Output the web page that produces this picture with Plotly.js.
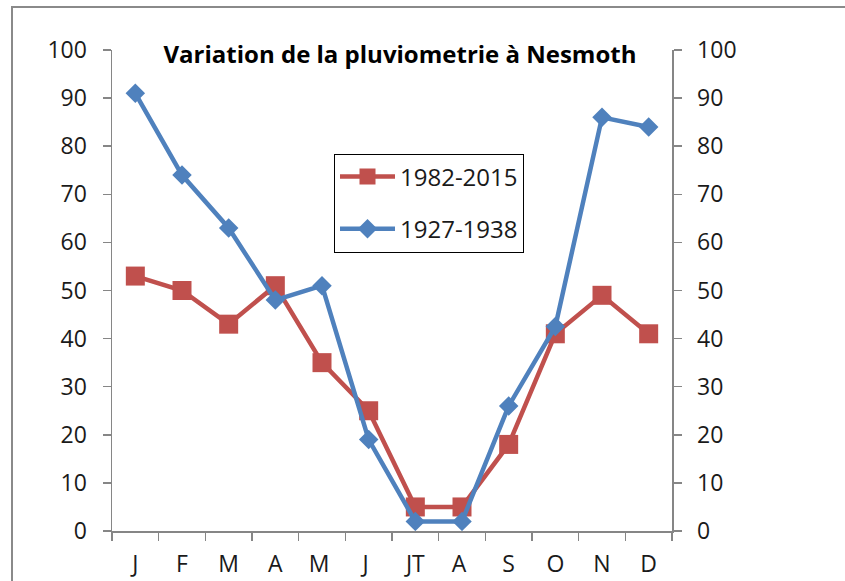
<!DOCTYPE html>
<html>
<head>
<meta charset="utf-8">
<script src="https://cdn.plot.ly/plotly-3.0.1.min.js"></script>
<style>
  html, body { margin: 0; padding: 0; background: #fff; overflow: hidden; }
  #frame { position: absolute; left: 11px; top: 6px; width: 1000px; height: 800px;
           border: 2px solid #8a8a8a; box-sizing: border-box; }
  #chart { position: absolute; left: 0; top: 0; width: 845px; height: 581px; }
</style>
</head>
<body>
<div id="frame"></div>
<div id="chart"></div>
<script>
const months = ["J", "F", "M", "A", "M ", "J ", "JT", "A ", "S", "O", "N", "D"];
const series1Name = "1982-2015";
const series1 = [53, 50, 43, 51, 35, 25, 5, 5, 18, 41, 49, 41];
const series2Name = "1927-1938";
const series2 = [91, 74, 63, 48, 51, 19, 2, 2, 26, 42.5, 86, 84];
const yTicks = [0, 10, 20, 30, 40, 50, 60, 70, 80, 90, 100];

const FONT = "Open Sans, Liberation Sans, sans-serif";
const red = "#C0504D", blue = "#4F81BD", axisCol = "#868686";

const traces = [
  { x: months, y: series1, name: series1Name, type: "scatter", mode: "lines+markers",
    legendgroup: "a",
    line: { color: red, width: 4.5 },
    marker: { symbol: "square", size: 19, color: red, line: { width: 0 } },
    hoverinfo: "skip" },
  { x: months, y: series2, name: series2Name, type: "scatter", mode: "lines+markers",
    legendgroup: "b",
    line: { color: blue, width: 4.5 },
    marker: { symbol: "diamond", size: 15, color: blue, line: { width: 0 } },
    hoverinfo: "skip" },
  { x: months, y: series2, yaxis: "y2", type: "scatter", mode: "lines",
    opacity: 0, showlegend: false, hoverinfo: "skip", line: { width: 0 } }
];

const yCommon = {
  range: [0, 100], tickvals: yTicks, ticktext: yTicks.map(String),
  showgrid: false, zeroline: false, showline: true, linecolor: axisCol, linewidth: 1.5,
  ticks: "outside", ticklen: 8, tickcolor: axisCol, tickwidth: 1.5,
  tickfont: { family: FONT, size: 23, color: "#1a1a1a" },
  ticklabelstandoff: 11, fixedrange: true
};

const layout = {
  width: 845, height: 581,
  margin: { l: 112, r: 173, t: 50, b: 50 },
  paper_bgcolor: "rgba(0,0,0,0)", plot_bgcolor: "rgba(0,0,0,0)",
  title: { text: "<b>Variation de la pluviometrie à Nesmoth</b>",
           font: { family: FONT, size: 24, color: "#000" },
           xref: "container", x: 400 / 845, xanchor: "center",
           yref: "container", y: 1 - 55 / 581, yanchor: "middle" },
  showlegend: true,
  legend: { x: (334 - 112) / 560, xanchor: "left", y: (531.5 - 154) / 481, yanchor: "top",
            bordercolor: "#000", borderwidth: 1, bgcolor: "#fff",
            font: { family: FONT, size: 24, color: "#1a1a1a" },
            traceorder: "grouped", tracegroupgap: 18, itemwidth: 55 },
  xaxis: {
    type: "category", range: [-0.5, 11.5], tickson: "boundaries",
    showgrid: false, zeroline: false, showline: true, linecolor: axisCol, linewidth: 1.5,
    ticks: "outside", ticklen: 8, tickcolor: axisCol, tickwidth: 1.5,
    tickfont: { family: FONT, size: 23, color: "#1a1a1a" },
    ticklabelstandoff: 12, fixedrange: true
  },
  yaxis: Object.assign({}, yCommon, { side: "left" }),
  yaxis2: Object.assign({}, yCommon, { side: "right", overlaying: "y" })
};

Plotly.newPlot("chart", traces, layout, { staticPlot: true, displayModeBar: false });
</script>
</body>
</html>
